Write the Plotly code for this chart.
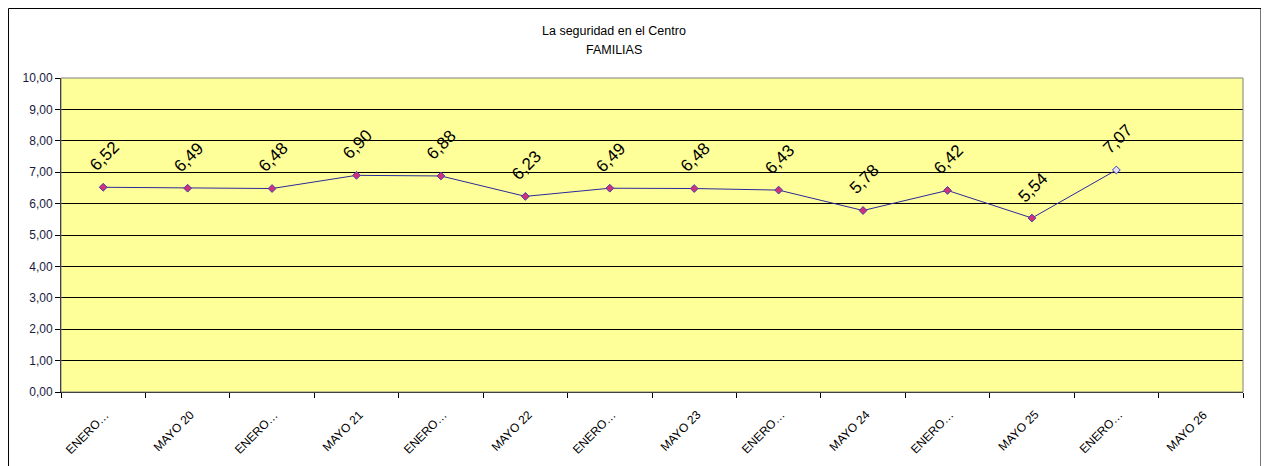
import plotly.graph_objects as go

categories = ["ENERO 20", "MAYO 20", "ENERO 21", "MAYO 21", "ENERO 22", "MAYO 22",
              "ENERO 23", "MAYO 23", "ENERO 24", "MAYO 24", "ENERO 25", "MAYO 25",
              "ENERO 26", "MAYO 26"]
tick_labels = ["ENERO…", "MAYO 20", "ENERO…", "MAYO 21", "ENERO…", "MAYO 22",
               "ENERO…", "MAYO 23", "ENERO…", "MAYO 24", "ENERO…", "MAYO 25",
               "ENERO…", "MAYO 26"]
values = [6.52, 6.49, 6.48, 6.90, 6.88, 6.23, 6.49, 6.48, 6.43, 5.78, 6.42, 5.54, 7.07, None]
y_ticks = [0, 1, 2, 3, 4, 5, 6, 7, 8, 9, 10]
title_lines = ["La seguridad en el Centro", "FAMILIAS"]

x_idx = list(range(len(categories)))
n_pts = sum(v is not None for v in values)
marker_colors = ["#d4307a"] * (n_pts - 1) + ["#e6e0ff"] + ["#d4307a"] * (len(values) - n_pts)

fig = go.Figure()
fig.add_trace(go.Scatter(
    x=x_idx, y=values, mode="lines+markers",
    line=dict(color="#2a2a9a", width=1),
    marker=dict(symbol="diamond", size=6, color=marker_colors,
                line=dict(color="#4040b0", width=1)),
    hoverinfo="skip", showlegend=False,
))

annotations = []
for i, v in zip(x_idx, values):
    if v is None:
        continue
    annotations.append(dict(
        x=i, y=v, xref="x", yref="y",
        text=f"{v:.2f}".replace(".", ","),
        showarrow=False, textangle=-45,
        xanchor="center", yanchor="middle", yshift=31, xshift=1,
        font=dict(family="Arial, Liberation Sans", size=17, color="#000000"),
    ))

# rotated category labels
for i, lab in zip(x_idx, tick_labels):
    annotations.append(dict(
        x=i, y=0, xref="x", yref="paper",
        text=lab, showarrow=False, textangle=-45,
        xanchor="right", yanchor="top", xshift=12, yshift=-13,
        font=dict(family="Arial, Liberation Sans", size=12, color="#000000"),
    ))

for line_txt, ypos in zip(title_lines, [1.1497, 1.089]):
    annotations.append(dict(
        x=0.468, y=ypos, xref="paper", yref="paper",
        text=line_txt, showarrow=False,
        xanchor="center", yanchor="middle",
        font=dict(family="Arial, Liberation Sans", size=12.5, color="#000000"),
    ))

# browser body margin offsets the figure by 8px; margins compensate
fig.update_layout(
    width=1261, height=458,
    margin=dict(l=53, r=26, t=70, b=74),
    paper_bgcolor="white", plot_bgcolor="#ffff99",
    separators=",.",
    annotations=annotations,
    shapes=[
        dict(type="rect", xref="paper", yref="paper",
             x0=-0.0444, x1=1.0152, y0=-0.30, y1=1.2213,
             line=dict(color="#000000", width=1), layer="below"),
        dict(type="rect", xref="paper", yref="paper",
             x0=0, x1=1, y0=0, y1=1,
             line=dict(color="#808080", width=1), layer="above"),
    ],
)

fig.update_xaxes(
    type="linear", range=[-0.5, len(categories) - 0.5],
    tickmode="array", tickvals=x_idx, showticklabels=False,
    showgrid=False, zeroline=False,
    showline=True, linecolor="#000000", linewidth=1,
    ticks="",
    fixedrange=True,
    minor=dict(tickmode="array",
               tickvals=[i - 0.5 for i in x_idx] + [len(categories) - 0.5],
               ticks="outside", ticklen=5, tickcolor="#000000", showgrid=False),
)

fig.update_yaxes(
    range=[0, 10], tickmode="array", tickvals=y_ticks, tickformat=".2f",
    showgrid=True, gridcolor="#000000", gridwidth=1, zeroline=False,
    showline=True, linecolor="#000000", linewidth=1,
    ticks="outside", ticklen=5, tickcolor="#000000",
    tickfont=dict(family="Arial, Liberation Sans", size=12, color="#1a1a40"),
    fixedrange=True,
)

fig.write_html("out.html")
